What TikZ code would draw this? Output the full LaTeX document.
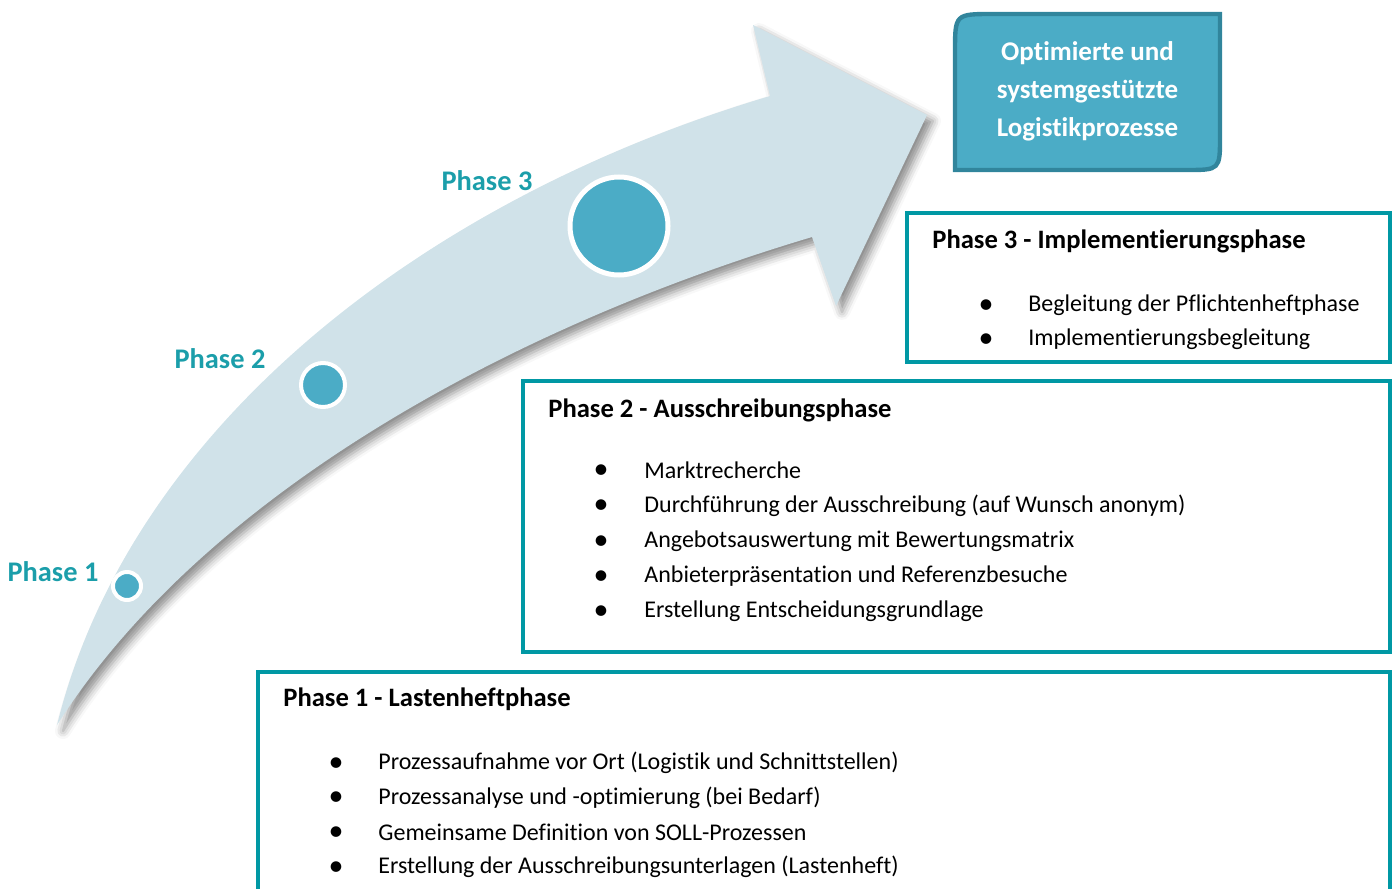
\documentclass[tikz,border=0pt]{standalone}
\usepackage{fontspec}
\setmainfont{Carlito}[Ligatures=CommonOff]
\usepackage{xcolor}
\usepackage{tikz}
\usetikzlibrary{shadows.blur}
\definecolor{tealc}{RGB}{0,152,164}
\definecolor{lblc}{RGB}{27,158,170}
\definecolor{goalfill}{RGB}{75,172,198}
\definecolor{goalline}{RGB}{49,133,156}
\definecolor{arrowc}{RGB}{208,226,233}

\begin{document}
\begin{tikzpicture}[x=0.5pt,y=-0.5pt]
\useasboundingbox (0,0) rectangle (1395,888);
\clip (0,0) rectangle (1395,888);

\tikzstyle{phaselbl}=[font=\fontsize{14.2}{16}\selectfont\bfseries,text=lblc,inner sep=0pt];
\tikzstyle{dot}=[circle,draw=white,line width=2pt,fill=goalfill,inner sep=0pt];
\tikzstyle{phasebox}=[draw=tealc,line width=2.2pt];
\tikzstyle{title}=[font=\fontsize{13.3}{15}\selectfont\bfseries,anchor=west,inner sep=0pt];
\tikzstyle{item}=[font=\fontsize{12}{14}\selectfont,anchor=west,inner sep=0pt];
\tikzstyle{bul}=[font=\fontsize{15}{15}\selectfont,inner sep=0pt,yshift=-0.7pt];

% curved arrow
\fill[arrowc,blur shadow={shadow xshift=3pt,shadow yshift=-3pt,shadow blur radius=4pt,shadow opacity=45}]
  (57,725) .. controls (130,430) and (420,200) .. (770,96) -- (753,25) -- (927,115)
  -- (836,306) -- (812,237) .. controls (500,330) and (200,500) .. (57,725) -- cycle;

\node[dot,minimum size=14pt] (c1)at(127,586) {};
\node[dot,minimum size=22pt] (c2)at(323,385) {};
\node[dot,minimum size=49pt,line width=2.5pt] (c3)at(619,226) {};

\node[phaselbl] (l1)at(53,572) {Phase 1};
\node[phaselbl] (l2)at(220,359) {Phase 2};
\node[phaselbl] (l3)at(487,181) {Phase 3};

% goal box
\filldraw[fill=goalfill,draw=goalline,line width=2.2pt]
  (955,170) -- (955,52) .. controls (955,14) .. (993,14) -- (1220,14)
  -- (1220,136) .. controls (1220,170) .. (1186,170) -- cycle;
\node[align=center,text=white,font=\fontsize{13.5}{19}\selectfont\bfseries] (goal)at(1087.5,91)
  {Optimierte und\\systemgestützte\\Logistikprozesse};

% phase 3
\draw[phasebox] (907,213) rectangle (1390,362);
\node[title] (t3)at(932,241) {Phase 3 - Implementierungsphase};
\foreach \t [count=\i from 0] in {Begleitung der Pflichtenheftphase,Implementierungsbegleitung}{
  \node[bul] (b3\i)at(986,305+34*\i) {•};
  \node[item] (i3\i)at(1028,305+34*\i) {\t};
}

% phase 2
\draw[phasebox] (523,381) rectangle (1390,652);
\node[title] (t2)at(548,410) {Phase 2 - Ausschreibungsphase};
\foreach \t [count=\i from 0] in {{Marktrecherche},{Durchführung der Ausschreibung (auf Wunsch anonym)},
    {Angebotsauswertung mit Bewertungsmatrix},{Anbieterpräsentation und Referenzbesuche},
    {Erstellung Entscheidungsgrundlage}}{
  \node[bul] (b2\i)at(601,470+35.4*\i) {•};
  \node[item] (i2\i)at(644,470+35.4*\i) {\t};
}

% phase 1
\draw[phasebox] (258,672) rectangle (1390,910);
\node[title] (t1)at(283,699) {Phase 1 - Lastenheftphase};
\foreach \t [count=\i from 0] in {{Prozessaufnahme vor Ort (Logistik und Schnittstellen)},
    {Prozessanalyse und -optimierung (bei Bedarf)},{Gemeinsame Definition von SOLL-Prozessen},
    {Erstellung der Ausschreibungsunterlagen (Lastenheft)}}{
  \node[bul] (b1\i)at(336,763+34.7*\i) {•};
  \node[item] (i1\i)at(378,763+34.7*\i) {\t};
}
\end{tikzpicture}
\end{document}
